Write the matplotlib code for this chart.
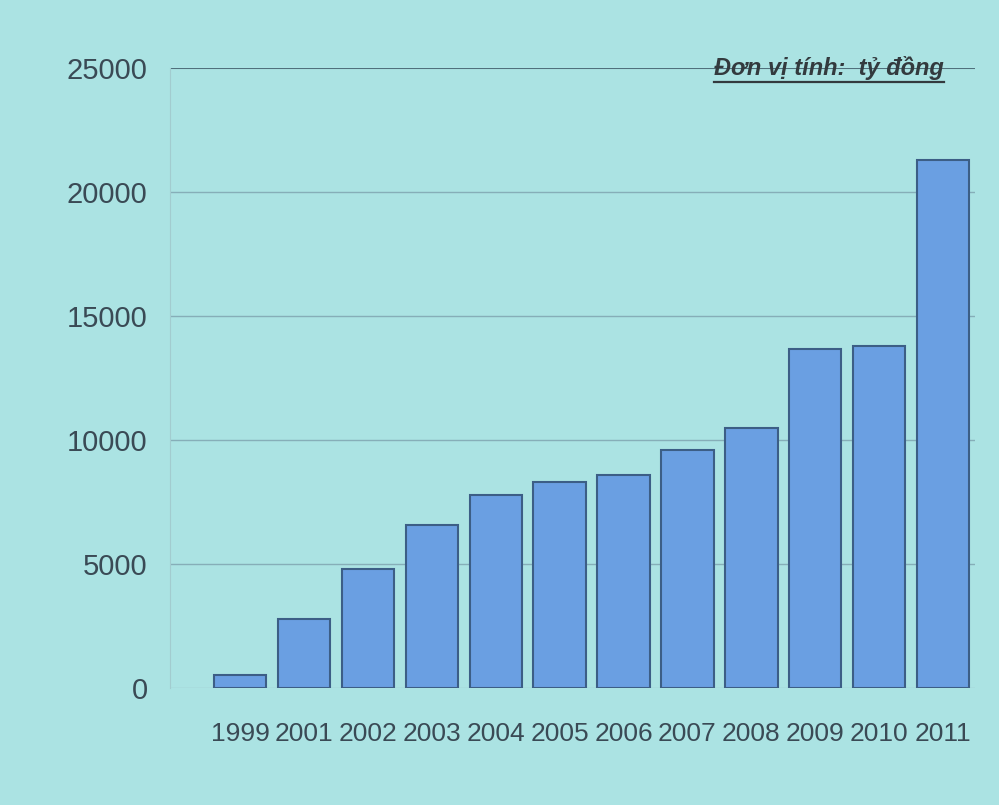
import numpy as np
import matplotlib
matplotlib.use('Agg')
import matplotlib.pyplot as plt
from matplotlib.lines import Line2D

#--- Data ---------------------------------------------------------------------

years = ['1999', '2001', '2002', '2003', '2004', '2005',
         '2006', '2007', '2008', '2009', '2010', '2011']
values = [550, 2800, 4800, 6600, 7800, 8300,
          8600, 9600, 10500, 13700, 13800, 21300]
yticks = [0, 5000, 10000, 15000, 20000, 25000]
unit_text = 'Đơn vị tính:  tỷ đồng'

#--- Plot ---------------------------------------------------------------------

plt.rcParams['font.family'] = ['Liberation Sans', 'DejaVu Sans']
bg = '#abe3e3'

fig = plt.figure(figsize=(9.99, 8.05), dpi=100, facecolor=bg)
ax = fig.add_axes([0.170, 0.145, 0.806, 0.77])
ax.set_facecolor(bg)

x = np.arange(len(years))
ax.bar(x, values, width=0.82, color='#6a9fe2', edgecolor='#3c5e86', linewidth=1.5, zorder=3)

ax.set_ylim(0, 25000)
ax.set_xlim(-1.1, 11.5)
ax.set_yticks(yticks)
ax.set_yticklabels([str(v) for v in yticks], fontsize=21, color='#3a4a55')
ax.set_xticks(x)
ax.set_xticklabels(years, fontsize=19, color='#3a4a55')
ax.tick_params(axis='y', length=0, pad=16)
ax.tick_params(axis='x', length=0, pad=24)

for v in yticks[1:]:
    lw = 1.5 if v == 25000 else 1.0
    col = '#50707c' if v == 25000 else '#86aeb8'
    ax.axhline(v, color=col, linewidth=lw, zorder=1)
ax.axhline(0, color='#9cc6cc', linewidth=1.0, zorder=2)

for s in ax.spines.values():
    s.set_visible(False)
ax.spines['left'].set_visible(True)
ax.spines['left'].set_color('#a2cccf')

# unit label, underlined
t = fig.text(0.945, 0.915, unit_text, ha='right', va='center', fontsize=17,
             fontweight='bold', style='italic', color='#333a3e')
fig.canvas.draw()
bb = t.get_window_extent().transformed(fig.transFigure.inverted())
fig.add_artist(Line2D([bb.x0, bb.x1], [bb.y0 - 0.002, bb.y0 - 0.002],
                      color='#333a3e', linewidth=1.6))

plt.savefig('out.png', dpi=100, facecolor=bg)
